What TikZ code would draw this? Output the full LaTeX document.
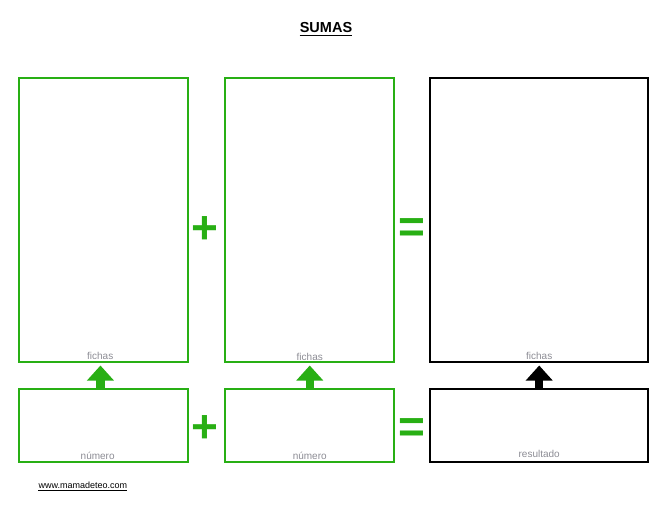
\documentclass[tikz,border=0pt]{standalone}
\usepackage{fontspec}
\setmainfont{Liberation Sans}
\usetikzlibrary{arrows.meta}
\definecolor{sumgreen}{RGB}{40,175,20}
\definecolor{labelgray}{RGB}{140,140,148}
\begin{document}
\begin{tikzpicture}[x=1pt,y=-1pt,
  card/.style={draw, line width=2pt, inner sep=0pt, anchor=north west},
  gcard/.style={card, draw=sumgreen},
  kcard/.style={card, draw=black},
  lbl/.style={text=labelgray, font=\fontsize{10}{11}\selectfont, inner sep=0pt, anchor=base},
  op/.style={text=sumgreen, font=\fontsize{46}{46}\selectfont\bfseries, inner sep=0pt},
  up/.style={line width=8.5pt, -{Triangle[width=26pt,length=15pt]}, shorten >=3pt},
]
\useasboundingbox (0,0) rectangle (659,505);

% title
\node[font=\fontsize{14.5}{15}\selectfont\bfseries, inner sep=0pt, anchor=base] (title) at (326,33) {SUMAS};
\draw[line width=1.2pt] ([yshift=-2.4pt]title.base west) -- ([yshift=-2.4pt]title.base east);

% counter cards
\node[gcard, minimum width=169.5pt, minimum height=283.5pt] (b1) at (17.7,77) {};
\node[gcard, minimum width=169.3pt, minimum height=283.5pt] (b2) at (224.1,77) {};
\node[kcard, minimum width=218pt, minimum height=283.5pt] (b3) at (429.2,77) {};

% number cards
\node[gcard, minimum width=169.5pt, minimum height=72.5pt] (s1) at (17.7,388) {};
\node[gcard, minimum width=169.3pt, minimum height=72.5pt] (s2) at (224.1,388) {};
\node[kcard, minimum width=218pt, minimum height=72.5pt] (s3) at (429.2,388) {};

% card captions
\node[lbl] (f1) at ([xshift=-3.2pt,yshift=3pt]b1.south) {fichas};
\node[lbl] (f2) at ([yshift=2.5pt]b2.south) {fichas};
\node[lbl] (f3) at ([yshift=3pt]b3.south) {fichas};
\node[lbl] (n1) at ([xshift=-5.8pt,yshift=2.7pt]s1.south) {número};
\node[lbl] (n2) at ([yshift=2.7pt]s2.south) {número};
\node[lbl] (r3) at ([yshift=5pt]s3.south) {resultado};

% operators
\node[op] (p1) at (205.3,229.8) {+};
\node[op] (e1) at (411.5,230.2) {=};
\node[op] (p2) at (205.3,429.2) {+};
\node[op] (e2) at (411.5,430.2) {=};

% arrows from number to counters
\draw[up, sumgreen] ([xshift=-3pt]s1.north) -- ([xshift=-3pt]b1.south);
\draw[up, sumgreen] (s2.north) -- (b2.south);
\draw[up, black] (s3.north) -- (b3.south);

% footer link
\node[font=\fontsize{9}{10}\selectfont, inner sep=0pt, anchor=base] (web) at (82.8,488.3) {www.mamadeteo.com};
\draw[line width=0.8pt] ([yshift=-1.6pt]web.base west) -- ([yshift=-1.6pt]web.base east);
\end{tikzpicture}
\end{document}
